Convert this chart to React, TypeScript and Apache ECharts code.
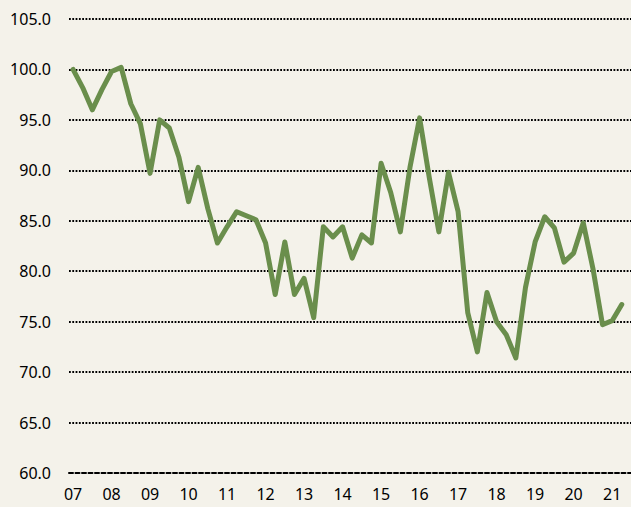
import React, { useEffect, useRef } from "react";
import * as echarts from "echarts";

const yearLabels = ["07", "08", "09", "10", "11", "12", "13", "14", "15", "16", "17", "18", "19", "20", "21"];

// Quarterly index values, 2007 Q1 .. 2021 Q2
const values = [
  100.0, 98.2, 96.0, 98.0, 99.8, 100.2, 96.6, 94.6,
  89.7, 95.0, 94.2, 91.3, 86.9, 90.3, 86.2, 82.8,
  84.4, 85.9, 85.5, 85.1, 82.8, 77.7, 82.9, 77.7,
  79.3, 75.4, 84.4, 83.4, 84.4, 81.3, 83.6, 82.8,
  90.7, 87.8, 83.9, 90.3, 95.2, 89.3, 83.9, 89.8,
  85.9, 75.9, 72.0, 77.9, 75.0, 73.7, 71.4, 78.4,
  82.9, 85.4, 84.3, 80.9, 81.8, 84.8, 80.3, 74.7,
  75.1, 76.7,
];

const yTicks = [60, 65, 70, 75, 80, 85, 90, 95, 100, 105];

export default function App() {
  const ref = useRef<HTMLDivElement>(null);

  useEffect(() => {
    if (!ref.current) return;
    const chart = echarts.init(ref.current, null, { renderer: "svg" });
    const data = values.map((v, i) => [i, v]);
    const labelPositions = yearLabels.map((_, i) => i * 4);
    const font = "'Noto Sans', sans-serif";
    chart.setOption({
      animation: false,
      backgroundColor: "#F4F2EA",
      grid: { left: 69, right: 0, top: 19, bottom: 34, containLabel: false },
      xAxis: {
        type: "value",
        min: -0.42,
        max: 57.96,
        axisLine: { show: true, lineStyle: { color: "#000", width: 2, type: [4, 2.5] } },
        axisTick: { show: false },
        splitLine: { show: false },
        axisLabel: {
          customValues: labelPositions,
          formatter: (v: number) => yearLabels[Math.round(v / 4)] ?? "",
          color: "#000",
          fontSize: 16,
          fontFamily: font,
          margin: 13,
        },
      },
      yAxis: {
        type: "value",
        min: yTicks[0],
        max: yTicks[yTicks.length - 1],
        interval: 5,
        axisLine: { show: false },
        axisTick: { show: false },
        axisLabel: {
          formatter: (v: number) => v.toFixed(1),
          color: "#000",
          fontSize: 16,
          fontFamily: font,
          margin: 18,
        },
        splitLine: {
          show: true,
          showMinLine: false,
          lineStyle: { color: "#000", width: 1.8, type: [1.8, 1.5] },
        },
      },
      series: [
        {
          type: "line",
          data,
          symbol: "none",
          lineStyle: { color: "#6A8E4C", width: 5, cap: "round", join: "round" },
        },
      ],
    });
    return () => chart.dispose();
  }, []);

  return (
    <div
      ref={ref}
      style={{ position: "fixed", left: 0, top: 0, width: 631, height: 507 }}
    />
  );
}
